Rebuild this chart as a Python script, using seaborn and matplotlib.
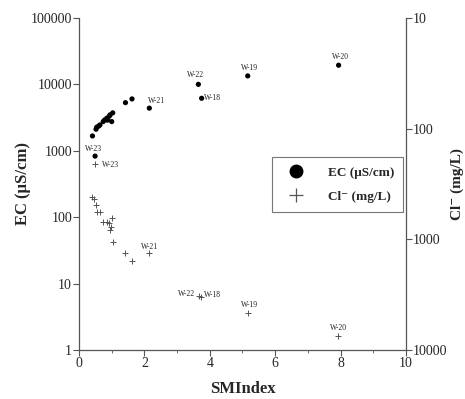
import numpy as np
import matplotlib
matplotlib.use("Agg")
import matplotlib.pyplot as plt
import seaborn as sns
from matplotlib.lines import Line2D
from matplotlib.ticker import FixedLocator, FuncFormatter

# EC data (SMIndex, EC in uS/cm)
ec_smi = [0.41, 0.52, 0.54, 0.60, 0.64, 0.74, 0.78, 0.85, 0.87, 0.92, 0.95,
          1.00, 1.03, 1.42, 1.62, 2.15, 3.65, 3.75, 5.16, 7.94, 0.49]
ec_val = [1670, 2110, 2260, 2350, 2450, 2750, 2900, 3090, 2890, 3300, 3470,
          2750, 3720, 5300, 6030, 4380, 10000, 6170, 13400, 19400, 830]

# Cl data (SMIndex, Cl in mg/L)
cl_smi = [0.41, 0.46, 0.51, 0.54, 0.64, 0.74, 0.85, 0.93, 1.00, 0.97, 0.95,
          1.05, 1.41, 1.61, 2.15, 3.66, 3.74, 5.18, 7.93, 0.49]
cl_val = [417, 430, 490, 562, 562, 692, 692, 710, 645, 770, 820,
          1050, 1340, 1560, 1340, 3240, 3300, 4650, 7470, 209]

# labelled wells: (name, index into arrays, offset in points)
ec_labels = [("W-23", 20, (-1, 5)), ("W-21", 15, (5, 5)), ("W-22", 16, (-2, 6.5)),
             ("W-18", 17, (8, 0)), ("W-19", 18, (1, 6)), ("W-20", 19, (1, 6))]
cl_labels = [("W-23", 19, (11, -1)), ("W-21", 14, (0.5, 4.5)), ("W-22", 15, (-9, 1.5)),
             ("W-18", 16, (8, 1.5)), ("W-19", 17, (0.5, 6)), ("W-20", 18, (0.5, 6))]

sns.set_style("ticks")
plt.rcParams['font.family'] = ['Liberation Serif', 'DejaVu Serif']

fig = plt.figure(figsize=(4.65, 3.99), dpi=100)
ax = fig.add_axes([0.170, 0.123, 0.703, 0.832])
ax2 = ax.twinx()

sns.scatterplot(x=ec_smi, y=ec_val, ax=ax, color='black', s=14, edgecolor='none', zorder=3)
sns.scatterplot(x=cl_smi, y=cl_val, ax=ax2, color='#555555', marker='+', s=22,
                linewidth=0.7, zorder=3)

ax.set_xlim(0, 10)
ax.set_yscale('log')
ax.set_ylim(1, 100000)
ax2.set_yscale('log')
ax2.set_ylim(10000, 10)

spine_col = '#555555'
for a in (ax, ax2):
    a.spines['top'].set_visible(False)
    for s in ('left', 'right', 'bottom'):
        a.spines[s].set_color(spine_col)
        a.spines[s].set_linewidth(0.9)
ax.spines['right'].set_visible(False)
ax2.spines['left'].set_visible(False)
ax2.spines['bottom'].set_visible(False)

ax.xaxis.set_major_locator(FixedLocator([0, 2, 4, 6, 8, 10]))
ax.xaxis.set_minor_locator(FixedLocator([1, 3, 5, 7, 9]))
ax.yaxis.set_major_locator(FixedLocator([1, 10, 100, 1000, 10000, 100000]))
ax.yaxis.set_minor_locator(FixedLocator([]))
ax2.yaxis.set_major_locator(FixedLocator([10, 100, 1000, 10000]))
ax2.yaxis.set_minor_locator(FixedLocator([]))
ax.yaxis.set_major_formatter(FuncFormatter(lambda v, p: f"{int(round(v))}"))
ax2.yaxis.set_major_formatter(FuncFormatter(lambda v, p: f"{int(round(v))}"))

ax.tick_params(axis='both', which='major', direction='out', length=4, width=0.8,
               color=spine_col, labelsize=10, pad=1)
ax.tick_params(axis='x', which='minor', direction='out', length=2, width=0.6, color=spine_col)
ax2.tick_params(axis='y', which='major', direction='out', length=4, width=0.8,
                color=spine_col, labelsize=10, pad=1)

ax.set_xlabel("SMIndex", fontsize=12, fontweight='bold', labelpad=8)
ax.set_ylabel("EC (μS/cm)", fontsize=12, fontweight='bold', labelpad=0)
ax2.set_ylabel("Cl⁻ (mg/L)", fontsize=11, fontweight='bold', labelpad=2)

for name, i, off in ec_labels:
    ax.annotate(name, (ec_smi[i], ec_val[i]), xytext=off, textcoords='offset points',
                fontsize=5.5, ha='center', va='center', color='#222222')
for name, i, off in cl_labels:
    ax2.annotate(name, (cl_smi[i], cl_val[i]), xytext=off, textcoords='offset points',
                 fontsize=5.5, ha='center', va='center', color='#222222')

handles = [Line2D([], [], marker='o', color='black', linestyle='none', markersize=9),
           Line2D([], [], marker='+', color='#555555', linestyle='none', markersize=10,
                  markeredgewidth=0.9)]
leg = ax2.legend(handles, ["EC (μS/cm)", "Cl⁻ (mg/L)"], loc='upper right',
                 bbox_to_anchor=(0.992, 0.581), borderaxespad=0, frameon=True,
                 fancybox=False, edgecolor='#777777', framealpha=1, borderpad=0.7,
                 labelspacing=0.9, handletextpad=1.3, handlelength=2.2,
                 prop={'weight': 'bold', 'size': 9.5})
leg.get_frame().set_linewidth(0.8)

fig.savefig("out.png", dpi=100)
